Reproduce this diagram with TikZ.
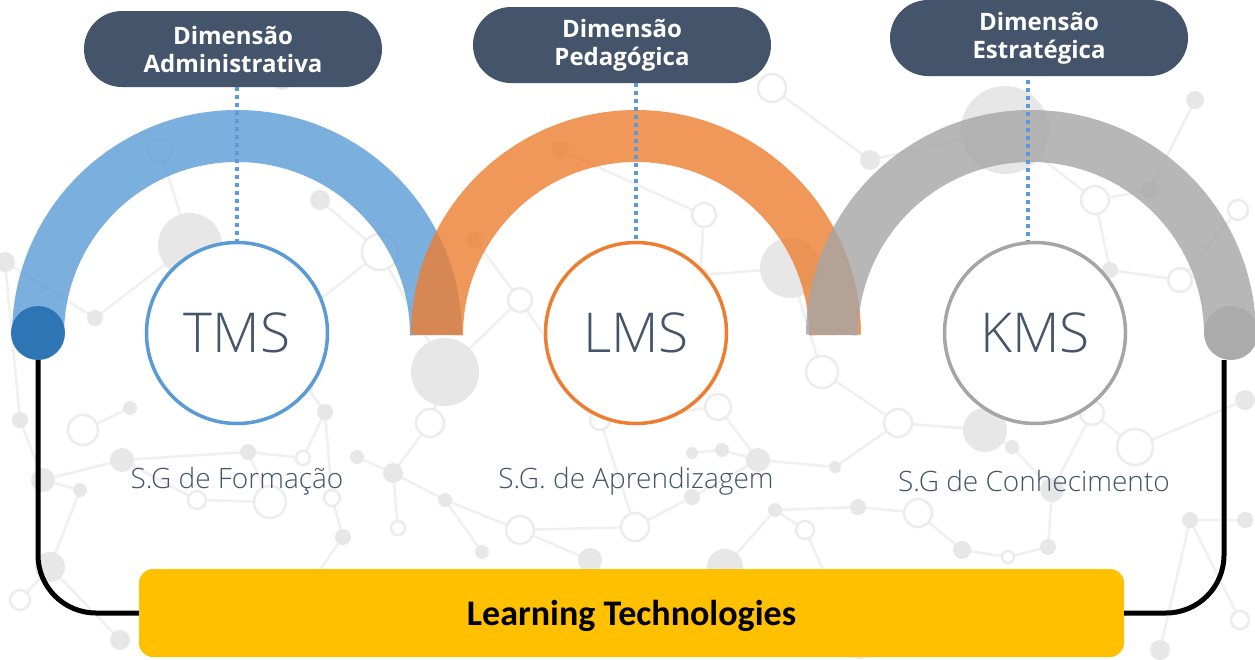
\documentclass[tikz,border=0pt]{standalone}
\usepackage{fontspec}
\setmainfont{Open Sans}
\newfontfamily\lightf{Open Sans Light}
\newfontfamily\pillf{Open Sans}
\newfontfamily\barf{Carlito}
\definecolor{slate}{HTML}{44546A}
\definecolor{cblue}{HTML}{5B9BD5}
\definecolor{cdblue}{HTML}{2E75B6}
\definecolor{corange}{HTML}{ED7D31}
\definecolor{cgray}{HTML}{A5A5A5}
\definecolor{cdgray}{HTML}{ABABAB}
\definecolor{cyellow}{HTML}{FFC000}
\definecolor{bgline}{HTML}{F0F0F0}
\definecolor{bgfill}{HTML}{E7E7E7}
\definecolor{bghollow}{HTML}{ECECEC}
\tikzset{
  band/.style={line width=52pt, draw=#1, draw opacity=0.8},
  endcap/.style={circle, fill=#1, minimum size=54pt, inner sep=0pt},
  sys/.style={circle, draw=#1, line width=3.5pt, fill=white, minimum size=181pt, inner sep=0pt,
    text=slate, text depth=0pt, font=\lightf\fontsize{55}{55}\selectfont},
  pill/.style={rectangle, rounded corners=38pt, fill=slate, text=white, minimum width=298pt,
    minimum height=76pt, align=center, font=\pillf\bfseries\fontsize{24}{28}\selectfont},
  sublabel/.style={text=slate, font=\lightf\fontsize{28}{32}\selectfont},
  dotline/.style={draw=cblue, line width=4pt, dash pattern=on 4pt off 4pt},
  conn/.style={draw=black, line width=5pt, rounded corners=58pt},
  barbox/.style={rectangle, rounded corners=14pt, fill=cyellow, minimum width=985pt,
    minimum height=88pt, text depth=0pt, font=\barf\bfseries\fontsize{36}{36}\selectfont, text=black},
  bgl/.style={draw=bgline, line width=2.5pt},
  bgf/.style={fill=bgfill},
  bgh/.style={draw=bghollow, line width=2.5pt, fill=white}
}
\begin{document}
\begin{tikzpicture}[x=1pt,y=-1pt]
\useasboundingbox[fill=white] (0,0) rectangle (1255,659);
% background network
\foreach \a/\b/\c/\d in {43/480/122/460, 122/460/248/452, 248/452/303/458, 303/458/325/412, 325/412/307/387,
  325/412/332/498, 332/498/343/537, 270/502/248/452, 270/502/197/500, 197/500/122/460, 80/490/50/567,
  80/490/43/480, 130/408/83/430, 357/457/393/473, 393/473/445/500, 445/500/482/552, 445/500/520/530,
  430/423/393/473, 430/423/445/372, 398/528/393/473, 520/530/635/527, 635/527/692/497, 692/497/758/460,
  758/460/722/450, 722/450/692/453, 758/460/835/467, 835/467/898/423, 898/423/985/430, 985/430/1012/447,
  1012/447/1052/490, 1052/490/1048/547, 1048/547/1008/557, 918/513/858/507, 918/513/962/550,
  858/507/775/510, 805/530/775/510, 718/407/758/460, 1092/413/1135/447, 1135/447/1245/400,
  1092/413/1052/490, 190/245/95/318, 190/245/298/317, 190/245/160/150, 380/252/298/317, 380/252/445/372,
  380/252/320/200, 475/240/520/300, 520/300/445/372, 700/275/790/268, 790/268/822/372, 822/372/898/423,
  704/215/700/275, 704/215/560/150, 772/88/870/160, 1005/130/1095/200, 1005/130/870/160,
  1095/200/1150/190, 1150/190/1195/100, 1180/280/1110/270, 1180/280/1238/210, 1110/270/1095/200,
  600/420/635/527, 600/420/520/300, 20/420/43/480, 20/420/5/262, 50/567/20/600, 50/567/120/640,
  270/640/343/537, 590/560/520/530, 725/567/775/510, 860/650/805/530, 1160/650/1190/520,
  1190/520/1245/520, 1240/620/1190/520, 5/262/95/318, 718/407/600/420, 1008/557/962/550}
  \draw[bgl] (\a,\b) -- (\c,\d);
\foreach \x/\y/\r in {130/408/7, 307/387/6, 325/412/8, 248/452/8, 80/490/7, 43/480/12, 122/460/12,
  343/537/8, 50/567/15, 393/473/10, 357/457/7, 445/500/7, 482/552/7, 722/450/7, 692/453/6, 758/460/12,
  835/467/6, 985/430/22, 1012/447/7, 858/507/8, 775/510/7, 692/497/8, 962/550/9, 1048/547/8,
  1052/490/12, 725/567/18, 190/245/32, 445/372/34, 790/268/30, 1005/130/44, 282/80/10, 95/318/8,
  298/317/8, 5/262/10, 475/240/8, 560/150/9, 700/275/8, 870/160/10, 1150/190/9, 1195/100/9,
  1245/400/10, 1110/270/8, 590/560/12, 1190/520/8, 20/420/8, 120/640/10, 270/640/8, 860/650/9,
  1160/650/10, 320/200/10, 1245/520/8}
  \fill[bgf] (\x,\y) circle[radius=\r];
\foreach \x/\y/\r in {83/430/15, 303/458/7, 270/502/16, 197/500/9, 332/498/8, 430/423/14, 398/528/7,
  520/530/14, 718/407/13, 898/423/14, 918/513/14, 635/527/14, 805/530/9, 1008/557/6, 1092/413/12,
  1135/447/18, 380/252/18, 822/372/16, 704/215/12, 772/88/14, 1095/200/14, 160/150/12, 520/300/12,
  1180/280/12, 1238/210/10, 600/420/10, 20/600/10, 1240/620/9}
  \draw[bgh] (\x,\y) circle[radius=\r];
% arcs
\draw[band=cblue] (38,335) arc[start angle=180, end angle=360, radius=199];
\draw[band=corange] (437,335) arc[start angle=180, end angle=360, radius=199];
\draw[band=cgray] (832,335) arc[start angle=180, end angle=360, radius=199];
% end caps
\node[endcap=cdblue] (bl) at (38,333) {};
\node[endcap=cdgray] (gr) at (1231,333) {};
% systems
\node[sys=cblue] (tms) at (237,333) {TMS};
\node[sys=corange] (lms) at (636,333) {LMS};
\node[sys=cgray] (kms) at (1035,333) {KMS};
% pills
\node[pill] (p1) at (233,49) {Dimensão\\Administrativa};
\node[pill] (p2) at (622,45) {Dimensão\\Pedagógica};
\node[pill] (p3) at (1039,38) {Dimensão\\Estratégica};
% sublabels
\node[sublabel] (s1) at (237,481) {S.G de Formação};
\node[sublabel] (s2) at (636,481) {S.G. de Aprendizagem};
\node[sublabel] (s3) at (1034,481) {S.G de Conhecimento};
% dotted lines
\draw[dotline] (tms.north |- p1.south) -- (tms.north);
\draw[dotline] (lms.north |- p2.south) -- (lms.north);
\coordinate (d3) at (1028,80);
\draw[dotline] (d3) -- (d3 |- kms.north);
% bar
\node[barbox] (lt) at (631.5,613) {Learning Technologies};
% connectors
\draw[conn] (bl.south) |- (lt.west);
\coordinate (gl) at (1224,360);
\draw[conn] (gl) |- (lt.east);
\end{tikzpicture}
\end{document}
